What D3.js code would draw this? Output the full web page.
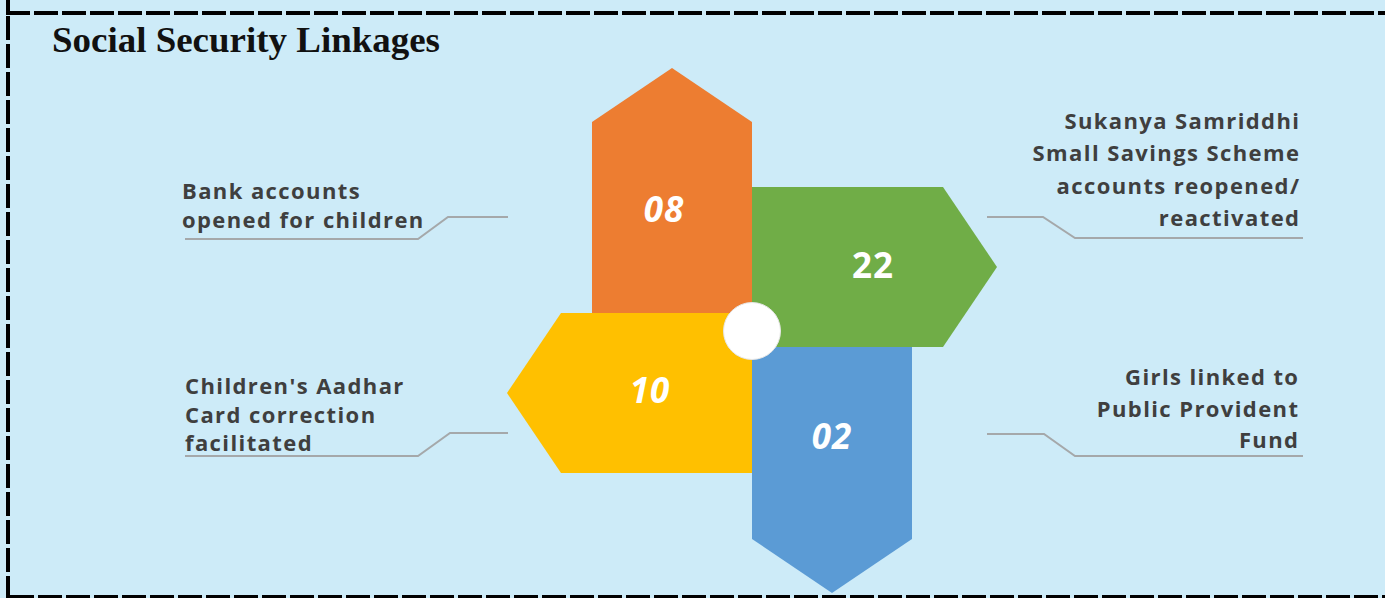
<!DOCTYPE html>
<html><head><meta charset="utf-8">
<script src="https://cdn.jsdelivr.net/npm/d3@7"></script>
<style>html,body{margin:0;padding:0;background:#cdebf8;overflow:hidden}</style>
</head><body><svg id="c" width="1385" height="598"></svg>
<script>
// ---- data ----
const title = "Social Security Linkages";
const categories = [
  "Bank accounts opened for children",
  "Sukanya Samriddhi Small Savings Scheme accounts reopened/reactivated",
  "Girls linked to Public Provident Fund",
  "Children's Aadhar Card correction facilitated"
];
const labelLines = [
  ["Bank accounts", "opened for children"],
  ["Sukanya Samriddhi", "Small Savings Scheme", "accounts reopened/", "reactivated"],
  ["Girls linked to", "Public Provident", "Fund"],
  ["Children's Aadhar", "Card correction", "facilitated"]
];
const values = ["08", "22", "02", "10"];
const directions = ["up", "right", "down", "left"];
const colors = ["#ED7D31", "#70AD47", "#5B9BD5", "#FFC000"];

// ---- layout ----
const svg = d3.select("#c");
const W = 1385, H = 598;
svg.append("rect").attr("width", W).attr("height", H).attr("fill", "#cdebf8");

const cx = 752, cy = 330, armW = 160, tip = 54;
const vLen = 208, hLen = 191, hOff = 17;

function armPoints(dir) {
  if (dir === "up") return [[cx - armW, cy], [cx - armW, cy - vLen], [cx - armW / 2, cy - vLen - tip], [cx, cy - vLen], [cx, cy]];
  if (dir === "down") return [[cx, cy], [cx, cy + vLen + 1], [cx + armW / 2, cy + vLen + 1 + tip], [cx + armW, cy + vLen + 1], [cx + armW, cy]];
  if (dir === "right") return [[cx, cy - armW + hOff], [cx + hLen, cy - armW + hOff], [cx + hLen + tip, cy - armW / 2 + hOff], [cx + hLen, cy + hOff], [cx, cy + hOff]];
  return [[cx, cy - hOff], [cx - hLen, cy - hOff], [cx - hLen - tip, cy + armW / 2 - hOff], [cx - hLen, cy + armW - hOff], [cx, cy + armW - hOff]];
}
const numPos = {
  up: [cx - armW / 2 - 8, cy - 108, true],
  right: [cx + 121, cy - 52, false],
  down: [cx + armW / 2, cy + 119, true],
  left: [cx - 102, cy + 73, true]
};
const LS = 1.4;
const labelPos = {
  up: {x: 182, y: 199, lh: 29, anchor: "start", line: [[508, 217], [448, 217], [418, 239], [185, 239]]},
  right: {x: 1299 + LS, y: 129, lh: 32.3, anchor: "end", line: [[987, 217], [1043, 217], [1075, 238], [1303, 238]]},
  down: {x: 1298 + LS, y: 385, lh: 31.5, anchor: "end", line: [[987, 434], [1044, 434], [1075, 456], [1303, 456]]},
  left: {x: 185, y: 394, lh: 28.5, anchor: "start", line: [[508, 433], [450, 433], [418, 456], [185, 456]]}
};

const items = values.map((v, i) => ({v, dir: directions[i], color: colors[i], lines: labelLines[i], cat: categories[i]}));
const order = ["up", "down", "right", "left"];
const line = d3.line();

svg.append("g").selectAll("path")
  .data(order.map(d => items.find(it => it.dir === d)))
  .join("path")
  .attr("d", d => line(armPoints(d.dir)) + "Z")
  .attr("fill", d => d.color);

// center circle
svg.append("circle").attr("cx", cx).attr("cy", cy + 1).attr("r", 28.5)
  .attr("fill", "#ffffff").attr("stroke", "#e6e6e6").attr("stroke-width", 1);

// numbers
svg.append("g").selectAll("text").data(items).join("text")
  .attr("x", d => numPos[d.dir][0]).attr("y", d => numPos[d.dir][1])
  .attr("text-anchor", "middle")
  .attr("font-family", "'Open Sans', sans-serif").attr("font-weight", 700)
  .attr("font-style", d => numPos[d.dir][2] ? "italic" : "normal")
  .attr("font-size", 35).attr("letter-spacing", 1).attr("fill", "#ffffff")
  .text(d => d.v);

// connectors
svg.append("g").selectAll("path").data(items).join("path")
  .attr("d", d => line(labelPos[d.dir].line))
  .attr("fill", "none").attr("stroke", "#a5a8aa").attr("stroke-width", 2);

// labels
const lg = svg.append("g").selectAll("text").data(items).join("text")
  .attr("font-family", "'Open Sans', sans-serif").attr("font-weight", 700)
  .attr("font-size", 22).attr("letter-spacing", LS).attr("fill", "#3f3f3f")
  .attr("text-anchor", d => labelPos[d.dir].anchor);
lg.selectAll("tspan").data(d => d.lines.map((t, j) => ({t, j, p: labelPos[d.dir]}))).join("tspan")
  .attr("x", d => d.p.x).attr("y", d => d.p.y + d.j * d.p.lh)
  .text(d => d.t);

// title
svg.append("text").attr("x", 52).attr("y", 52)
  .attr("font-family", "'Liberation Serif', 'DejaVu Serif', serif").attr("font-weight", 700)
  .attr("font-size", 36).attr("fill", "#111")
  .attr("textLength", 388).attr("lengthAdjust", "spacingAndGlyphs")
  .text(title);

// dashed border
const bd = svg.append("g").attr("stroke", "#000").attr("stroke-width", 4).attr("stroke-dasharray", "24,4").attr("fill", "none");
bd.append("line").attr("x1", 6).attr("y1", 13).attr("x2", W + 10).attr("y2", 13);
bd.append("line").attr("x1", 8).attr("y1", -12).attr("x2", 8).attr("y2", H + 10);
bd.append("line").attr("x1", 10).attr("y1", 597).attr("x2", W + 10).attr("y2", 597);
</script></body></html>
